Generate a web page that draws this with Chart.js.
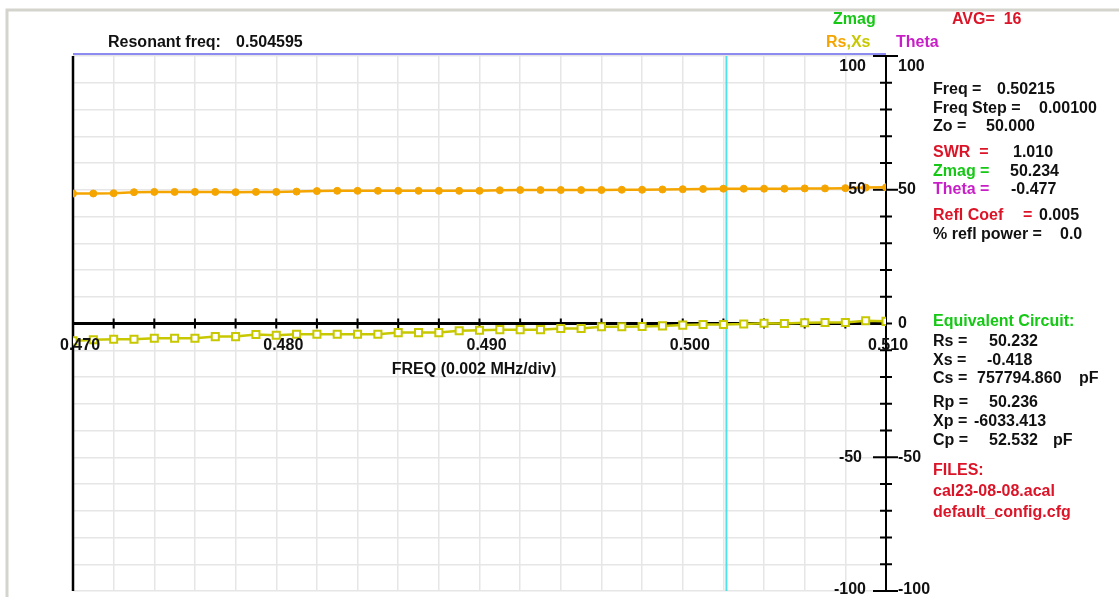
<!DOCTYPE html>
<html>
<head>
<meta charset="utf-8">
<script src="https://cdn.jsdelivr.net/npm/chart.js@4.4.0/dist/chart.umd.min.js"></script>
<style>
  html, body { margin: 0; padding: 0; background: #fff; overflow: hidden; }
  #wrap { position: relative; width: 1119px; height: 599px; }
  canvas { position: absolute; left: 0; top: 0; }
</style>
</head>
<body>
<div id="wrap"><canvas id="zChart" width="1119" height="599"></canvas></div>
<script>
// sweep points (MHz)
const freqs = [
  0.470, 0.471, 0.472, 0.473, 0.474, 0.475, 0.476, 0.477, 0.478, 0.479,
  0.480, 0.481, 0.482, 0.483, 0.484, 0.485, 0.486, 0.487, 0.488, 0.489,
  0.490, 0.491, 0.492, 0.493, 0.494, 0.495, 0.496, 0.497, 0.498, 0.499,
  0.500, 0.501, 0.502, 0.503, 0.504, 0.505, 0.506, 0.507, 0.508, 0.509,
  0.510
];
const rsValues = [
  48.6, 48.6, 48.7, 49.1, 49.2, 49.2, 49.2, 49.2, 49.1, 49.2,
  49.2, 49.3, 49.5, 49.6, 49.6, 49.6, 49.6, 49.6, 49.6, 49.6,
  49.6, 49.8, 49.9, 49.9, 49.9, 49.9, 49.9, 50.0, 50.0, 50.1,
  50.2, 50.3, 50.4, 50.4, 50.4, 50.4, 50.5, 50.5, 50.6, 50.8,
  50.9
];
const xsValues = [
  -6.5, -6.1, -5.9, -5.9, -5.5, -5.5, -5.5, -4.9, -4.9, -4.1,
  -4.4, -4.0, -4.0, -4.0, -4.0, -4.0, -3.4, -3.4, -3.4, -2.7,
  -2.5, -2.3, -2.3, -2.3, -1.9, -1.9, -1.2, -1.2, -1.1, -0.9,
  -0.6, -0.4, -0.4, -0.2, 0.1, 0.0, 0.3, 0.4, 0.4, 1.0,
  0.8
];
const xTickLabels = ['0.470', '0.480', '0.490', '0.500', '0.510'];
const yTickLabels = [100, 50, 0, -50, -100];
const markerFreq = 0.50215;
const resonantFreq = '0.504595';

const FONT = 'bold 16px "Liberation Sans", Arial, sans-serif';
const RED = '#dc1428';
const GREEN = '#14c814';
const MAGENTA = '#c81ec8';
const ORANGE = '#f5a500';
const YELLOW = '#c8c800';

// right hand readout: [text, x, y, color]
const readout = [
  ['Freq =', 933, 90, '#000'], ['0.50215', 997, 90, '#000'],
  ['Freq Step =', 933, 109, '#000'], ['0.00100', 1039, 109, '#000'],
  ['Zo =', 933, 127, '#000'], ['50.000', 986, 127, '#000'],
  ['SWR  =', 933, 153, RED], ['1.010', 1013, 153, '#000'],
  ['Zmag =', 933, 172, GREEN], ['50.234', 1010, 172, '#000'],
  ['Theta =', 933, 190, MAGENTA], ['-0.477', 1011, 190, '#000'],
  ['Refl Coef', 933, 216, RED], ['=', 1023, 216, RED], ['0.005', 1039, 216, '#000'],
  ['% refl power =', 933, 235, '#000'], ['0.0', 1060, 235, '#000'],
  ['Equivalent Circuit:', 933, 322, GREEN],
  ['Rs =', 933, 342, '#000'], ['50.232', 989, 342, '#000'],
  ['Xs =', 933, 361, '#000'], ['-0.418', 987, 361, '#000'],
  ['Cs =', 933, 379, '#000'], ['757794.860', 977, 379, '#000'], ['pF', 1079, 379, '#000'],
  ['Rp =', 933, 403, '#000'], ['50.236', 989, 403, '#000'],
  ['Xp =', 933, 422, '#000'], ['-6033.413', 974, 422, '#000'],
  ['Cp =', 933, 441, '#000'], ['52.532', 989, 441, '#000'], ['pF', 1053, 441, '#000'],
  ['FILES:', 933, 471, RED],
  ['cal23-08-08.acal', 933, 492, RED],
  ['default_config.cfg', 933, 513, RED]
];

const analyzerPlugin = {
  id: 'analyzer',
  beforeDatasetsDraw(chart) {
    const { ctx, chartArea: a, scales: { x, y } } = chart;
    ctx.save();
    // window frame
    ctx.strokeStyle = '#d4d4cc';
    ctx.lineWidth = 3;
    ctx.beginPath();
    ctx.moveTo(7, 597); ctx.lineTo(7, 10); ctx.lineTo(1119, 10);
    ctx.stroke();
    // top blue bar
    ctx.strokeStyle = '#8c8cf0';
    ctx.lineWidth = 2;
    ctx.beginPath();
    ctx.moveTo(a.left, 54); ctx.lineTo(a.right, 54);
    ctx.stroke();
    // cursor
    const cx = x.getPixelForValue(markerFreq);
    ctx.strokeStyle = '#50e0e8';
    ctx.lineWidth = 2;
    ctx.beginPath();
    ctx.moveTo(cx, a.top); ctx.lineTo(cx, a.bottom);
    ctx.stroke();
    // left axis
    ctx.strokeStyle = '#000';
    ctx.lineWidth = 2.5;
    ctx.beginPath();
    ctx.moveTo(a.left, a.top); ctx.lineTo(a.left, a.bottom);
    ctx.stroke();
    // right axis with ticks
    ctx.lineWidth = 2;
    ctx.beginPath();
    ctx.moveTo(a.right, a.top); ctx.lineTo(a.right, a.bottom);
    for (let v = -100; v <= 100; v += 10) {
      const py = y.getPixelForValue(v);
      const long = v % 50 === 0 && v !== 0;
      ctx.moveTo(a.right - (long ? 13 : 6), py);
      ctx.lineTo(a.right + (long ? 12 : 6), py);
    }
    ctx.stroke();
    // zero axis with ticks
    const zy = y.getPixelForValue(0);
    ctx.lineWidth = 3;
    ctx.beginPath();
    ctx.moveTo(a.left, zy); ctx.lineTo(a.right, zy);
    ctx.stroke();
    ctx.lineWidth = 2;
    ctx.beginPath();
    for (let i = 0; i < freqs.length; i += 2) {
      const px = x.getPixelForValue(freqs[i]);
      ctx.moveTo(px, zy - 5); ctx.lineTo(px, zy + 5);
    }
    ctx.stroke();
    ctx.restore();
  },
  afterDraw(chart) {
    const { ctx, chartArea: a, scales: { x, y } } = chart;
    ctx.save();
    ctx.font = FONT;
    ctx.textBaseline = 'middle';
    const zy = y.getPixelForValue(0);

    // x tick labels along the zero line
    ctx.fillStyle = '#111';
    ctx.textAlign = 'left';
    xTickLabels.forEach(t => {
      const px = x.getPixelForValue(parseFloat(t));
      ctx.fillText(t, px - (px > a.right - 2 ? 18 : 13), zy + 22);
    });
    ctx.textAlign = 'center';
    ctx.fillText('FREQ (0.002 MHz/div)', 474, zy + 46);

    // y labels on both sides of the right axis
    yTickLabels.forEach(v => {
      let py = y.getPixelForValue(v);
      if (v === 100) py += 11;
      if (v === -100) py -= 1;
      if (v !== 0) {
        ctx.textAlign = 'right';
        ctx.fillText(String(v), a.right - (v === -50 ? 24 : 20), py);
      }
      ctx.textAlign = 'left';
      ctx.fillText(String(v), a.right + 12, py);
    });

    // header
    ctx.textAlign = 'left';
    ctx.fillText('Resonant freq:', 108, 43);
    ctx.fillText(resonantFreq, 236, 43);
    ctx.fillStyle = GREEN;
    ctx.fillText('Zmag', 833, 20);
    ctx.fillStyle = RED;
    ctx.fillText('AVG=  16', 952, 20);
    ctx.fillStyle = ORANGE;
    ctx.fillText('Rs', 826, 43);
    const rsW = ctx.measureText('Rs').width;
    ctx.fillStyle = YELLOW;
    ctx.fillText(',Xs', 826 + rsW, 43);
    ctx.fillStyle = MAGENTA;
    ctx.fillText('Theta', 896, 43);

    readout.forEach(([t, px, py, c]) => {
      ctx.fillStyle = c === '#000' ? '#111' : c;
      ctx.fillText(t, px, py);
    });
    ctx.restore();
  }
};

new Chart(document.getElementById('zChart').getContext('2d'), {
  type: 'line',
  data: {
    datasets: [
      {
        label: 'Rs',
        data: freqs.map((f, i) => ({ x: f, y: rsValues[i] })),
        borderColor: ORANGE,
        backgroundColor: ORANGE,
        borderWidth: 2.5,
        pointRadius: 3.5,
        pointBorderWidth: 1,
        pointStyle: 'circle',
        tension: 0
      },
      {
        label: 'Xs',
        data: freqs.map((f, i) => ({ x: f, y: xsValues[i] })),
        borderColor: YELLOW,
        backgroundColor: '#ffffff',
        borderWidth: 2.5,
        pointRadius: 5,
        pointBorderWidth: 2,
        pointStyle: 'rect',
        tension: 0
      }
    ]
  },
  options: {
    responsive: false,
    animation: false,
    layout: { padding: { left: 73, right: 233, top: 56, bottom: 8 } },
    plugins: { legend: { display: false }, tooltip: { enabled: false } },
    scales: {
      x: {
        type: 'linear',
        min: 0.470,
        max: 0.510,
        ticks: { display: false, stepSize: 0.002 },
        grid: { color: '#e6e6e6', lineWidth: 1.5, drawTicks: false },
        border: { display: false }
      },
      y: {
        min: -100,
        max: 100,
        ticks: { display: false, stepSize: 10 },
        grid: { color: '#e6e6e6', lineWidth: 1.5, drawTicks: false },
        border: { display: false }
      }
    }
  },
  plugins: [analyzerPlugin]
});
</script>
</body>
</html>
